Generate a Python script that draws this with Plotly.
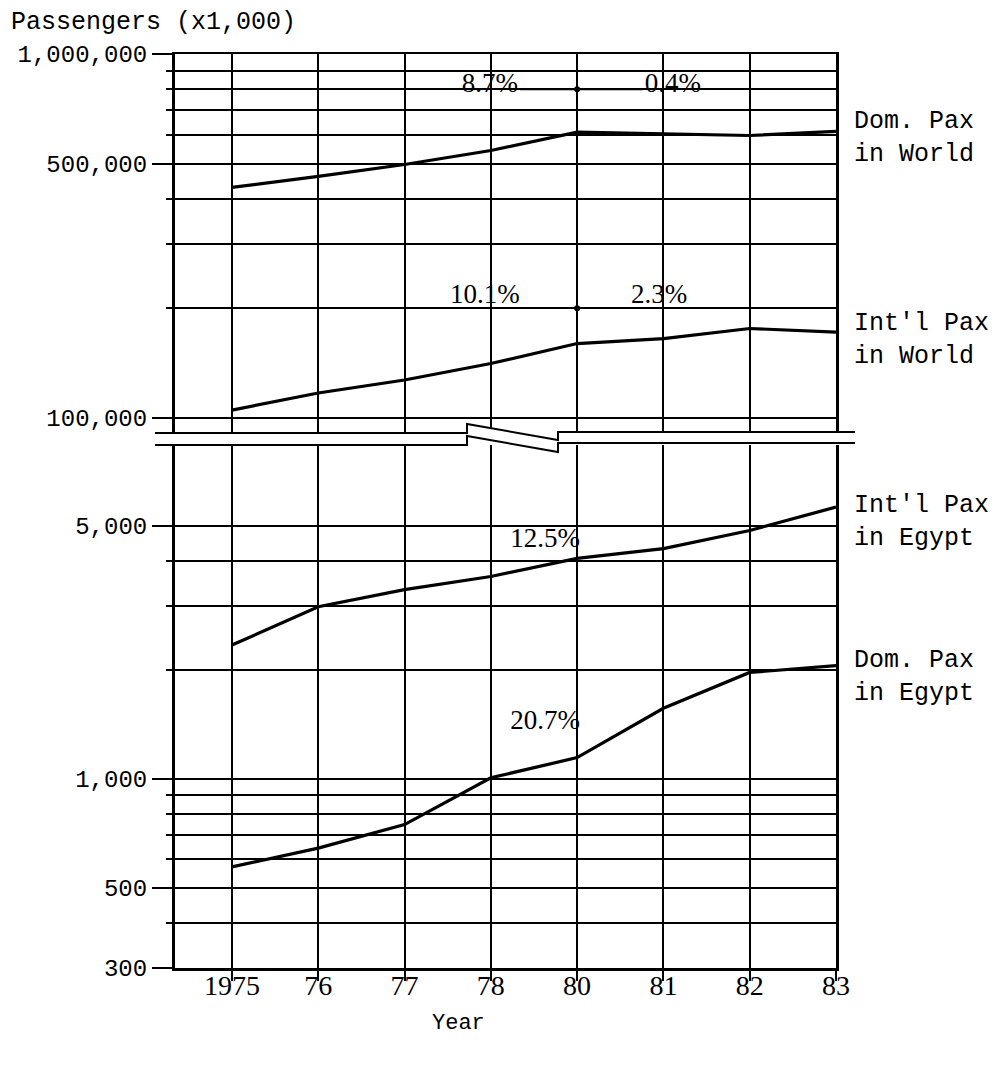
import math
import plotly.graph_objects as go

# ---------------- data ----------------
years = ["1975", "76", "77", "78", "80", "81", "82", "83"]
dom_world = [430000, 461000, 497000, 543000, 610000, 603000, 597000, 613000]
intl_world = [105000, 117000, 127000, 141000, 160000, 165000, 176000, 172000]
intl_egypt = [2340, 2985, 3330, 3620, 4060, 4320, 4850, 5630]
dom_egypt = [571, 643, 747, 1006, 1144, 1565, 1966, 2052]

upper_ticks = [100000, 500000, 1000000]
upper_ticktext = ["100,000", "500,000", "1,000,000"]
upper_minor = [200000, 300000, 400000, 600000, 700000, 800000, 900000]
lower_ticks = [300, 500, 1000, 5000]
lower_ticktext = ["300", "500", "1,000", "5,000"]
lower_minor = [400, 600, 700, 800, 900, 2000, 3000, 4000]

series_labels = ["Dom. Pax<br>in World", "Int'l Pax<br>in World",
                 "Int'l Pax<br>in Egypt", "Dom. Pax<br>in Egypt"]

# growth-rate notes: (text, x position index, value)
notes_upper = [("8.7%", 2.99, 820000), ("0.4%", 5.11, 820000),
               ("10.1%", 2.93, 216000), ("2.3%", 4.95, 216000)]
notes_lower = [("12.5%", 3.63, 4570), ("20.7%", 3.63, 1428)]

# ---------------- geometry (page has an 8px body margin) ----------------
OFF = 8
W, H = 998 - OFF, 1067 - OFF
PLOT_L, PLOT_R, PLOT_T, PLOT_B = 175, 836, 54, 968   # target page pixels
L, T = PLOT_L - OFF, PLOT_T - OFF
R = (W + OFF) - PLOT_R
B = (H + OFF) - PLOT_B
PW, PH = PLOT_R - PLOT_L, PLOT_B - PLOT_T


def X(px):
    return (px - PLOT_L) / PW


def Y(py):
    return (PLOT_B - py) / PH


xi = list(range(len(years)))
MONO = "Liberation Mono"
SERIF = "Liberation Serif"
INK = "black"

fig = go.Figure()

line_style = dict(color=INK, width=3.2)
fig.add_trace(go.Scatter(x=xi, y=dom_world, mode="lines", line=line_style,
                         xaxis="x2", yaxis="y2", showlegend=False))
fig.add_trace(go.Scatter(x=xi, y=intl_world, mode="lines", line=line_style,
                         xaxis="x2", yaxis="y2", showlegend=False))
fig.add_trace(go.Scatter(x=xi, y=intl_egypt, mode="lines", line=line_style,
                         xaxis="x", yaxis="y", showlegend=False))
fig.add_trace(go.Scatter(x=xi, y=dom_egypt, mode="lines", line=line_style,
                         xaxis="x", yaxis="y", showlegend=False))

# growth-rate markers (dot at 1980 with connectors)
fig.add_trace(go.Scatter(x=[3.34, 4, 4.76], y=[800000, 800000, 800000],
                         mode="lines", line=dict(color=INK, width=2),
                         xaxis="x2", yaxis="y2", showlegend=False))
fig.add_trace(go.Scatter(x=[4, 4], y=[800000, 200000], mode="markers",
                         marker=dict(color=INK, size=6),
                         xaxis="x2", yaxis="y2", showlegend=False))

fig.add_trace(go.Scatter(x=[n[1] for n in notes_upper], y=[n[2] for n in notes_upper],
                         text=[n[0] for n in notes_upper], mode="text",
                         textfont=dict(family=SERIF, size=27, color=INK),
                         xaxis="x2", yaxis="y2", showlegend=False))
fig.add_trace(go.Scatter(x=[n[1] for n in notes_lower], y=[n[2] for n in notes_lower],
                         text=[n[0] for n in notes_lower], mode="text",
                         textfont=dict(family=SERIF, size=27, color=INK),
                         xaxis="x", yaxis="y", showlegend=False))

grid = dict(showgrid=True, gridcolor=INK, gridwidth=1.5, zeroline=False)

upper_bottom_px = 433
lower_top_px = 445
up_scale = 363.8
lo_scale = 362.0
upper_range = [6 - (upper_bottom_px - PLOT_T) / up_scale, 6]
lower_range = [math.log10(300), math.log10(300) + (PLOT_B - lower_top_px) / lo_scale]

fig.update_layout(
    width=W, height=H,
    margin=dict(l=L, r=R, t=T, b=B, autoexpand=False),
    paper_bgcolor="white", plot_bgcolor="white",
    showlegend=False,
    xaxis=dict(anchor="y", domain=[0, 1], range=[-0.66, 7],
               tickmode="array", tickvals=xi, ticktext=years,
               ticks="outside", ticklen=10, tickwidth=1.8, tickcolor=INK,
               ticklabelstandoff=-20,
               showline=True, linewidth=2.8, linecolor=INK,
               tickfont=dict(family=SERIF, size=28, color=INK), **grid),
    xaxis2=dict(anchor="y2", matches="x", range=[-0.66, 7],
                tickmode="array", tickvals=xi, showticklabels=False,
                side="top", showline=True, linewidth=2, linecolor=INK,
                ticks="", **grid),
    yaxis=dict(type="log", domain=[0, Y(lower_top_px)], range=lower_range,
               tickmode="array", tickvals=lower_ticks, ticktext=lower_ticktext,
               ticks="outside", ticklen=20, tickwidth=1.8, tickcolor=INK,
               showline=True, linewidth=3, linecolor=INK, mirror=True,
               tickfont=dict(family=MONO, size=24, color=INK),
               minor=dict(tickmode="array", tickvals=lower_minor, ticks="outside",
                          ticklen=6, tickcolor=INK, showgrid=True,
                          gridcolor=INK, gridwidth=1.5),
               **grid),
    yaxis2=dict(type="log", domain=[Y(upper_bottom_px), 1], range=upper_range,
                anchor="x2",
                tickmode="array", tickvals=upper_ticks, ticktext=upper_ticktext,
                ticks="outside", ticklen=20, tickwidth=1.8, tickcolor=INK,
                showline=True, linewidth=3, linecolor=INK, mirror=True,
                tickfont=dict(family=MONO, size=24, color=INK),
                minor=dict(tickmode="array", tickvals=upper_minor, ticks="outside",
                           ticklen=6, tickcolor=INK, showgrid=True,
                           gridcolor=INK, gridwidth=1.5),
                **grid),
)


# axis-break symbol
def path(points, close=False):
    s = "M " + " L ".join(f"{X(px):.5f},{Y(py):.5f}" for px, py in points)
    return s + (" Z" if close else "")


top_pts = [(155, 433), (467, 433), (467, 424), (558, 440), (558, 432), (855, 432)]
bot_pts = [(155, 445), (467, 445), (467, 436), (558, 452), (558, 443), (855, 443)]
fig.add_shape(type="path", xref="paper", yref="paper",
              path=path(top_pts + bot_pts[::-1], close=True),
              fillcolor="white", line=dict(width=0), layer="above")
fig.add_shape(type="path", xref="paper", yref="paper", path=path(top_pts),
              line=dict(color=INK, width=2), layer="above")
fig.add_shape(type="path", xref="paper", yref="paper", path=path(bot_pts),
              line=dict(color=INK, width=2), layer="above")

# titles and series labels
fig.add_annotation(text="Passengers (x1,000)", xref="paper", yref="paper",
                   x=X(9), y=Y(22), xanchor="left", yanchor="middle",
                   showarrow=False, font=dict(family=MONO, size=25, color=INK))
fig.add_annotation(text="Year", xref="paper", yref="paper",
                   x=X(458), y=Y(1023), xanchor="center", yanchor="middle",
                   showarrow=False, font=dict(family=MONO, size=22, color=INK))

label_centers = [138, 340, 522, 677]
for txt, cy in zip(series_labels, label_centers):
    fig.add_annotation(text=txt, xref="paper", yref="paper",
                       x=X(852), y=Y(cy), xanchor="left", yanchor="middle",
                       align="left", showarrow=False,
                       font=dict(family=MONO, size=25, color=INK))

fig.write_html("out.html")
